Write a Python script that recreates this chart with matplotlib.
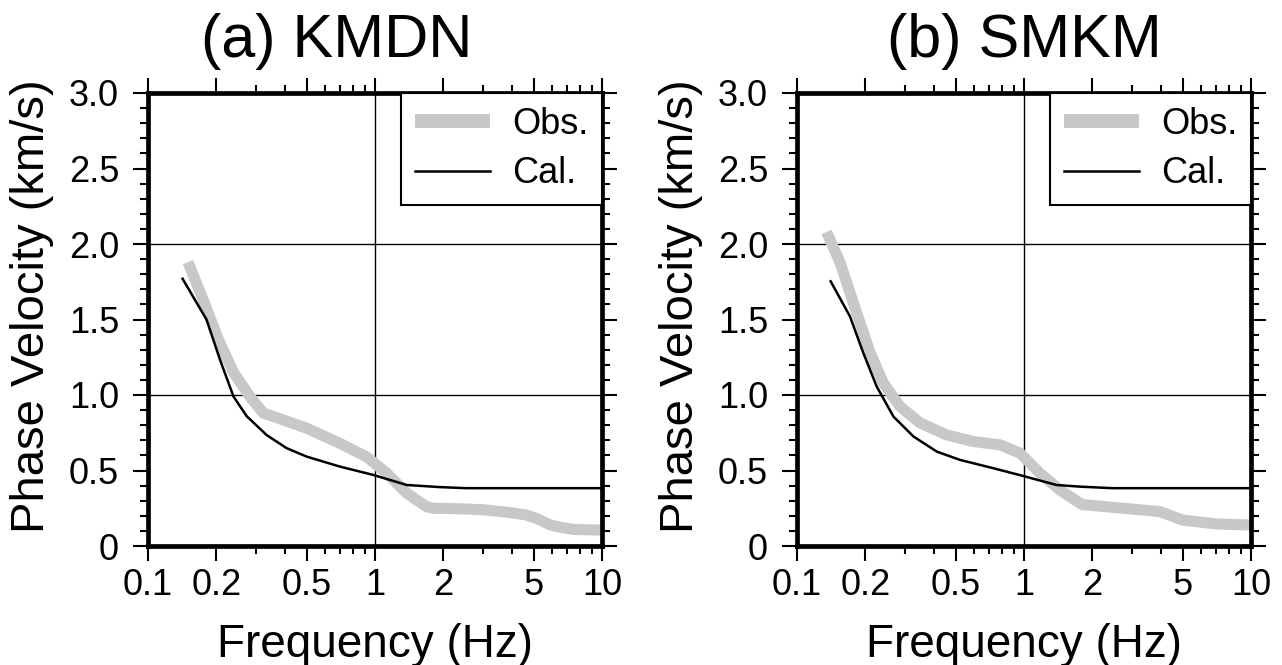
import numpy as np
import matplotlib
matplotlib.use("Agg")
import matplotlib.pyplot as plt
from matplotlib.ticker import FixedLocator, FuncFormatter

plt.rcParams['font.family'] = ['Liberation Sans', 'DejaVu Sans']

# (a) KMDN
obs_a_f = [0.150, 0.175, 0.204, 0.238, 0.281, 0.322, 0.394, 0.50, 0.70, 0.92, 1.13, 1.38, 1.69, 1.81,
           2.2, 3.0, 4.0, 4.66, 5.2, 5.9, 6.5, 7.5, 10.0]
obs_a_v = [1.88, 1.63, 1.37, 1.15, 0.99, 0.88, 0.835, 0.78, 0.68, 0.59, 0.48, 0.35, 0.26, 0.25,
           0.248, 0.24, 0.22, 0.205, 0.18, 0.14, 0.125, 0.11, 0.105]
cal_a_f = [0.142, 0.161, 0.181, 0.208, 0.238, 0.272, 0.333, 0.408, 0.50, 0.70, 0.98, 1.38, 1.93, 2.53, 10.0]
cal_a_v = [1.77, 1.63, 1.50, 1.23, 0.99, 0.86, 0.735, 0.648, 0.592, 0.526, 0.471, 0.404, 0.39, 0.383, 0.383]

# (b) SMKM
obs_b_f = [0.135, 0.155, 0.177, 0.21, 0.24, 0.284, 0.348, 0.456, 0.598, 0.784, 0.96, 1.175, 1.44, 1.8,
           2.73, 3.96, 5.0, 7.0, 10.0]
obs_b_v = [2.08, 1.875, 1.61, 1.28, 1.08, 0.925, 0.815, 0.736, 0.692, 0.67, 0.615, 0.482, 0.371, 0.275,
           0.25, 0.228, 0.172, 0.146, 0.139]
cal_b_f = [0.1407, 0.1547, 0.1712, 0.196, 0.2245, 0.266, 0.326, 0.413, 0.523, 0.733, 0.99, 1.39, 1.77, 2.45, 10.0]
cal_b_v = [1.753, 1.64, 1.52, 1.278, 1.056, 0.857, 0.725, 0.625, 0.57, 0.515, 0.464, 0.404, 0.393, 0.383, 0.383]

titles = ["(a) KMDN", "(b) SMKM"]
title_x = [0.416, 0.5]
xticks = [0.1, 0.2, 0.5, 1, 2, 5, 10]
xticklabels = ["0.1", "0.2", "0.5", "1", "2", "5", "10"]
xminor = [0.3, 0.4, 0.6, 0.7, 0.8, 0.9, 3, 4, 6, 7, 8, 9]

fig = plt.figure(figsize=(12.82, 6.65), dpi=100)
axes = [fig.add_axes([148 / 1282, 1 - 546 / 665, 454 / 1282, 453 / 665]),
        fig.add_axes([797 / 1282, 1 - 546 / 665, 454 / 1282, 453 / 665])]

data = [(obs_a_f, obs_a_v, cal_a_f, cal_a_v), (obs_b_f, obs_b_v, cal_b_f, cal_b_v)]

for ax, (of, ov, cf, cv), title, tx in zip(axes, data, titles, title_x):
    ax.set_xscale('log')
    ax.set_xlim(0.1, 10)
    ax.set_ylim(0, 3.0)

    # grid lines only at 1, 2 km/s and 1 Hz
    for yv in (1.0, 2.0):
        ax.axhline(yv, color='black', lw=1.0, zorder=1)
    ax.axvline(1.0, color='black', lw=1.0, zorder=1)

    ax.plot(of, ov, color='#c8c8c8', lw=8, solid_capstyle='butt', zorder=2, label='Obs.')
    ax.plot(cf, cv, color='black', lw=1.8, zorder=3, label='Cal.')

    ax.xaxis.set_major_locator(FixedLocator(xticks))
    ax.set_xticklabels(xticklabels)
    ax.xaxis.set_minor_locator(FixedLocator(xminor))
    ax.xaxis.set_minor_formatter(FuncFormatter(lambda v, p: ""))
    ax.yaxis.set_major_locator(FixedLocator(np.arange(0, 3.01, 0.5)))
    ax.yaxis.set_minor_locator(FixedLocator(np.arange(0, 3.01, 0.1)))
    ax.yaxis.set_major_formatter(FuncFormatter(lambda v, p: "0" if abs(v) < 1e-9 else f"{v:.1f}"))

    for sp in ax.spines.values():
        sp.set_linewidth(3.4)
    ax.tick_params(which='both', direction='out', top=True, right=True, width=1.5)
    ax.tick_params(which='major', length=10.8, labelsize=26)
    ax.tick_params(which='minor', length=5.8)
    ax.tick_params(axis='y', which='major', pad=10)
    ax.tick_params(axis='x', which='major', pad=5)

    ax.text(tx, 1.0795, title, transform=ax.transAxes, ha='center', va='baseline', fontsize=44)
    ax.text(0.5, -0.245, "Frequency (Hz)", transform=ax.transAxes, ha='center', va='baseline', fontsize=33)
    ax.text(-0.2555, 0.53, "Phase Velocity (km/s)", transform=ax.transAxes, rotation=90,
            ha='center', va='center', fontsize=34)

    leg = ax.legend(loc='upper right', bbox_to_anchor=(1, 1), borderaxespad=0, fontsize=26,
                    fancybox=False, framealpha=1, edgecolor='black', handlelength=2.1,
                    handletextpad=0.6, labelspacing=0.4, borderpad=0.38)
    leg.get_frame().set_linewidth(1.5)
    leg.legend_handles[0].set_linewidth(10)
    leg.legend_handles[1].set_linewidth(1.8)

plt.savefig("out.png", dpi=100)
